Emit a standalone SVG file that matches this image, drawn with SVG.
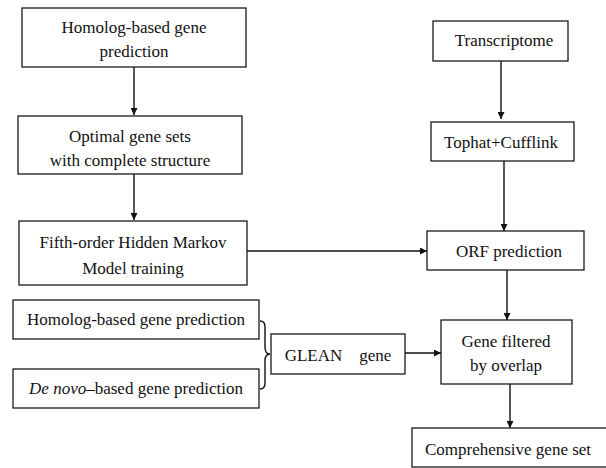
<svg xmlns="http://www.w3.org/2000/svg" width="606" height="468" viewBox="0 0 606 468">
<defs>
<style>
rect{fill:#fff;stroke:#1a1a1a;stroke-width:1.3}
text{font-size:17px;fill:#111;text-anchor:middle}
.c{fill:none;stroke:#111;stroke-width:1.4}
</style>
<marker id="ah" viewBox="0 0 10 10" refX="10" refY="5" markerWidth="7" markerHeight="7" markerUnits="userSpaceOnUse" orient="auto"><path d="M0,0 L10,5 L0,10 Z" fill="#111"/></marker>
</defs>
<rect x="0" y="0" width="606" height="468" style="fill:#fff;stroke:none"/>
<g id="connectors">
<path class="c" d="M134,67 V115" marker-end="url(#ah)"/>
<path class="c" d="M134,174 V220" marker-end="url(#ah)"/>
<path class="c" d="M247,251 H427" marker-end="url(#ah)"/>
<path class="c" d="M501,61 V119" marker-end="url(#ah)"/>
<path class="c" d="M504,161 V231" marker-end="url(#ah)"/>
<path class="c" d="M507,270 V320" marker-end="url(#ah)"/>
<path class="c" d="M405,353 H441" marker-end="url(#ah)"/>
<path class="c" d="M510,384 V428" marker-end="url(#ah)"/>
<path class="c" d="M260,321 Q265,321 265,327 V347 Q265,354 270,354 Q265,354 265,361 V383 Q265,389 260,389"/>
</g>
<g font-family="'Liberation Serif', Tinos, 'Times New Roman', 'DejaVu Serif', serif">
<g id="n1"><rect x="22" y="8" width="224" height="59"/><text x="134" y="33">Homolog-based gene</text><text x="134" y="57">prediction</text></g>
<g id="n2"><rect x="18" y="116" width="224" height="58"/><text x="130" y="142">Optimal gene sets</text><text x="130" y="166">with complete structure</text></g>
<g id="n3"><rect x="19" y="221" width="228" height="64"/><text x="133" y="248">Fifth-order Hidden Markov</text><text x="133" y="274">Model training</text></g>
<g id="n4"><rect x="13" y="300" width="246" height="39"/><text x="136" y="325">Homolog-based gene prediction</text></g>
<g id="n5"><rect x="13" y="369" width="246" height="39"/><text x="136" y="394"><tspan font-style="italic">De novo</tspan>–based gene prediction</text></g>
<g id="n6"><rect x="271" y="334" width="134" height="40"/><text x="338" y="361" xml:space="preserve">GLEAN    gene</text></g>
<g id="n7"><rect x="433" y="21" width="135" height="40"/><text x="504" y="46">Transcriptome</text></g>
<g id="n8"><rect x="431" y="122" width="143" height="39"/><text x="501" y="148">Tophat+Cufflink</text></g>
<g id="n9"><rect x="427" y="231" width="157" height="39"/><text x="509" y="257">ORF prediction</text></g>
<g id="n10"><rect x="441" y="320" width="131" height="64"/><text x="506" y="347">Gene filtered</text><text x="506" y="371">by overlap</text></g>
<g id="n11"><rect x="412" y="428" width="200" height="39"/><text x="508" y="455">Comprehensive gene set</text></g>
</g>
</svg>
